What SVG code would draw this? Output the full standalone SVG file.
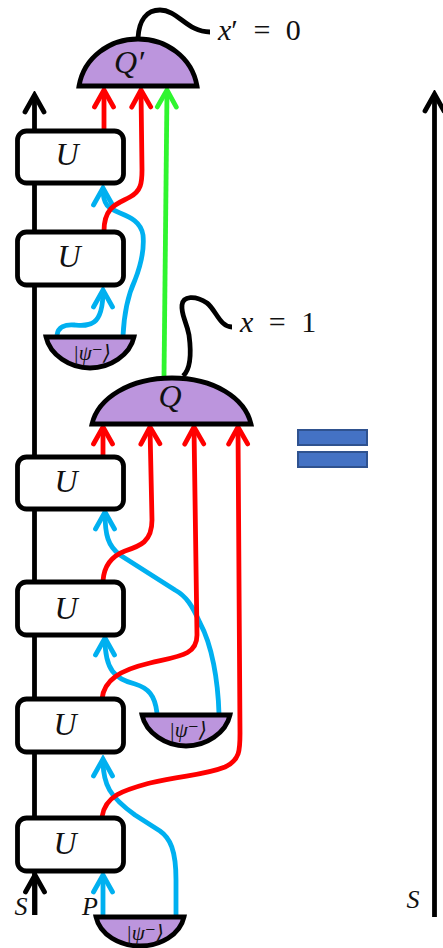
<svg xmlns="http://www.w3.org/2000/svg" width="443" height="948" viewBox="0 0 443 948">
<style>
.w{fill:none;stroke-width:4.800;stroke-linecap:butt;stroke-linejoin:round}
.k{stroke:#000}.r{stroke:#f00}.b{stroke:#00b0f0}.g{stroke:#2ff52f}
.box{fill:#fff;stroke:#000;stroke-width:4.800}
.m{fill:#bc95dd;stroke:#000;stroke-width:4.800;stroke-linejoin:miter}
.t{font-family:"Liberation Serif","DejaVu Serif",serif;font-style:italic;fill:#111;text-anchor:middle}
.u{font-size:32px}
.p{font-size:21px;font-style:italic}
.l{font-size:30px;text-anchor:start;font-style:normal;word-spacing:8px}
.eq{fill:#4472c4;stroke:#2f528f;stroke-width:2}
</style>
<defs>
<marker id="ak" markerUnits="userSpaceOnUse" markerWidth="28" markerHeight="28" viewBox="-23 -14 28 28" refX="0" refY="0" orient="auto"><path d="M-16,-9.500 L1,0 L-16,9.500" fill="none" stroke="#000" stroke-width="4.800" stroke-linecap="round"/></marker>
<marker id="ar" markerUnits="userSpaceOnUse" markerWidth="28" markerHeight="28" viewBox="-23 -14 28 28" refX="0" refY="0" orient="auto"><path d="M-16,-9.500 L1,0 L-16,9.500" fill="none" stroke="#f00" stroke-width="4.800" stroke-linecap="round"/></marker>
<marker id="ab" markerUnits="userSpaceOnUse" markerWidth="28" markerHeight="28" viewBox="-23 -14 28 28" refX="0" refY="0" orient="auto"><path d="M-16,-9.500 L1,0 L-16,9.500" fill="none" stroke="#00b0f0" stroke-width="4.800" stroke-linecap="round"/></marker>
<marker id="ag" markerUnits="userSpaceOnUse" markerWidth="28" markerHeight="28" viewBox="-23 -14 28 28" refX="0" refY="0" orient="auto"><path d="M-16,-9.500 L1,0 L-16,9.500" fill="none" stroke="#2ff52f" stroke-width="4.800" stroke-linecap="round"/></marker>
</defs>
<g id="connectors">
<path class="w k" d="M34.500,915 V96" marker-end="url(#ak)"/>
<path class="w k" d="M35,915 V876" marker-end="url(#ak)"/>
<path class="w k" d="M434.500,917 V95" marker-end="url(#ak)"/>
<path class="w k" d="M138,38 C139,20 147,10 160,10 C178,10 187,32 210,32"/>
<path class="w k" d="M183,376 C192,368 191,350 189,335 C186,320 181,315 182,305 C183,296 195,295 207,303 C216,310 220,327 232,327"/>
<path class="w b" d="M123,336 C124,315 128,295 135,280 C142,262 144,245 143,235 C141,222 130,217 120,213 C108,208 103,205 103,189" marker-end="url(#ab)"/>
<path class="w b" d="M57,335 C58,327 65,324 75,325 C88,326 103,328 103,291" marker-end="url(#ab)"/>
<path class="w b" d="M219,714 C218,680 212,645 200,623 C192,605 186,596 175,590 L120,555 C108,546 105,535 105,513" marker-end="url(#ab)"/>
<path class="w b" d="M157,713 C155,695 148,688 135,684 C115,679 105,670 105,639" marker-end="url(#ab)"/>
<path class="w b" d="M176,916 L176,880 C176,850 170,838 160,831 L135,815 C110,797 103,785 103,760" marker-end="url(#ab)"/>
<path class="w b" d="M103,916 V876" marker-end="url(#ab)"/>
<path class="w r" d="M104,130 V91" marker-end="url(#ar)"/>
<path class="w r" d="M104,231 C104,205 120,203 130,197 C141,191 142,183 142,170 L141,91" marker-end="url(#ar)"/>
<path class="w g" d="M164,377 L167,91" marker-end="url(#ag)"/>
<path class="w r" d="M103,457 V428" marker-end="url(#ar)"/>
<path class="w r" d="M103,581 C104,565 112,556 125,551 C140,546 152,542 152,520 L150,428" marker-end="url(#ar)"/>
<path class="w r" d="M102,699 C104,680 120,670 150,663 C180,656 197,655 197,635 L194,428" marker-end="url(#ar)"/>
<path class="w r" d="M102,817 C105,795 125,790 150,783 C185,775 205,775 225,767 C240,760 240,750 240,733 L238,428" marker-end="url(#ar)"/>
</g>
<g id="u1"><rect class="box" x="17.500" y="131" width="106" height="52" rx="9"/><text class="t u" x="67" y="165">U</text></g>
<g id="u2"><rect class="box" x="17.500" y="232" width="106" height="53" rx="9"/><text class="t u" x="69" y="267">U</text></g>
<g id="u3"><rect class="box" x="17.500" y="457" width="106" height="52" rx="9"/><text class="t u" x="66" y="492">U</text></g>
<g id="u4"><rect class="box" x="17.500" y="582" width="106" height="53" rx="9"/><text class="t u" x="66" y="619">U</text></g>
<g id="u5"><rect class="box" x="17.500" y="699" width="106" height="53" rx="9"/><text class="t u" x="65" y="735">U</text></g>
<g id="u6"><rect class="box" x="17.500" y="818" width="106" height="53" rx="9"/><text class="t u" x="65" y="854">U</text></g>
<g id="qprime"><path class="m" d="M79,86 C84,57 110,39 138,39 C166,39 192,57 197,86 Z"/><text class="t u" x="129" y="73">Q′</text></g>
<g id="q"><path class="m" d="M92,424 C98,398 130,378 172,378 C214,378 245,398 251,424 Z"/><text class="t u" x="170" y="407">Q</text></g>
<g id="psi1"><path class="m" d="M46,337 H134 C130,355 110,368 90,368 C70,368 50,355 46,337 Z"/><text class="t p" x="92" y="360">|ψ⁻⟩</text></g>
<g id="psi2"><path class="m" d="M142,715 H230 C226,733 206,746 186,746 C166,746 146,733 142,715 Z"/><text class="t p" x="188" y="737">|ψ⁻⟩</text></g>
<g id="psi3"><path class="m" d="M96,917 H184 C180,935 160,946 140,946 C120,946 100,935 96,917 Z"/><text class="t p" x="145" y="940">|ψ⁻⟩</text></g>
<g id="labels">
<text class="t l" x="218" y="40"><tspan font-style="italic">x</tspan>′ = 0</text>
<text class="t l" x="240" y="332"><tspan font-style="italic">x</tspan> = 1</text>
<text class="t" font-size="26" x="21" y="915">S</text>
<text class="t" font-size="26" x="90" y="915">P</text>
<text class="t" font-size="26" x="413" y="908">S</text>
</g>
<g id="equals"><rect class="eq" x="298" y="430" width="69" height="15"/><rect class="eq" x="298" y="452" width="69" height="15"/></g>
</svg>
